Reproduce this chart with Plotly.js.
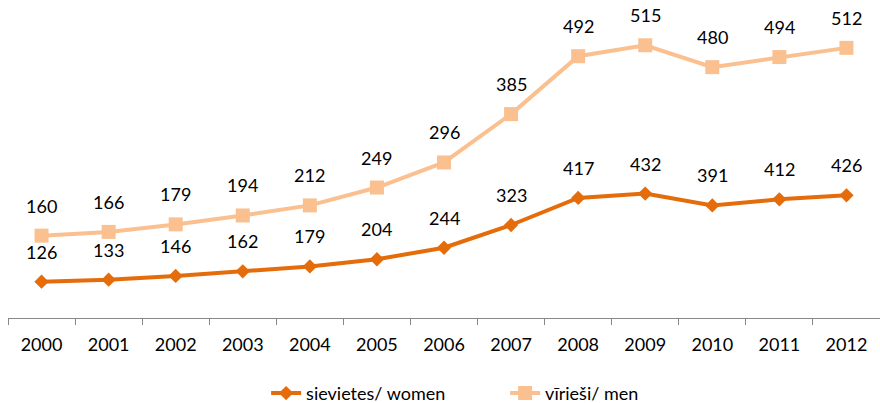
<!DOCTYPE html>
<html>
<head>
<meta charset="utf-8">
<script src="https://cdn.plot.ly/plotly-3.0.1.min.js"></script>
<style>html,body{margin:0;padding:0;background:#fff;}#chart{width:880px;height:403px;}</style>
</head>
<body>
<div id="chart"></div>
<script>
const years = ["2000","2001","2002","2003","2004","2005","2006","2007","2008","2009","2010","2011","2012"];
const women = [126,133,146,162,179,204,244,323,417,432,391,412,426];
const men = [160,166,179,194,212,249,296,385,492,515,480,494,512];
const womenName = "sievietes/ women";
const menName = "vīrieši/ men";

const FONT = "Lato, 'Open Sans', sans-serif";
const womenColor = "#E46C0A";
const menColor = "#FAC090";

const traces = [
  {x: years, y: women, name: womenName, type: "scatter", mode: "lines+markers",
   stackgroup: "one", fill: "none",
   line: {color: womenColor, width: 4},
   marker: {symbol: "diamond", size: 11, color: womenColor}},
  {x: years, y: men, name: menName, type: "scatter", mode: "lines+markers",
   stackgroup: "one", fill: "none",
   line: {color: menColor, width: 4},
   marker: {symbol: "square", size: 14, color: menColor}}
];

const annotations = [];
years.forEach((yr, i) => {
  annotations.push({xref: "x", yref: "y", x: i, y: women[i], text: String(women[i]), showarrow: false, yshift: 30,
    font: {family: FONT, size: 18, color: "#000"}});
  annotations.push({xref: "x", yref: "y", x: i, y: women[i] + men[i], text: String(men[i]), showarrow: false, yshift: 30,
    font: {family: FONT, size: 18, color: "#000"}});
});

const layout = {
  width: 880, height: 403,
  margin: {l: 8, r: 0, t: 30, b: 85},
  paper_bgcolor: "#fff", plot_bgcolor: "#fff",
  font: {family: FONT, size: 18, color: "#000"},
  showlegend: true,
  legend: {orientation: "h", x: 0.296, xanchor: "left", yref: "container", y: 0.024, yanchor: "middle",
    entrywidth: 194, font: {family: FONT, size: 18, color: "#000"}},
  xaxis: {type: "category", range: [-0.5, 12.5], showline: true, linecolor: "#878787", linewidth: 1,
    ticks: "outside", tickson: "boundaries", ticklen: 6, tickcolor: "#878787", tickwidth: 1,
    ticklabelstandoff: 10,
    showgrid: false, zeroline: false, fixedrange: true,
    tickfont: {family: FONT, size: 18, color: "#000"}},
  yaxis: {range: [0, 1000], showticklabels: false, ticks: "", showline: false, showgrid: false, zeroline: false, fixedrange: true},
  annotations: annotations
};

Plotly.newPlot("chart", traces, layout, {displayModeBar: false, staticPlot: true});
</script>
</body>
</html>
